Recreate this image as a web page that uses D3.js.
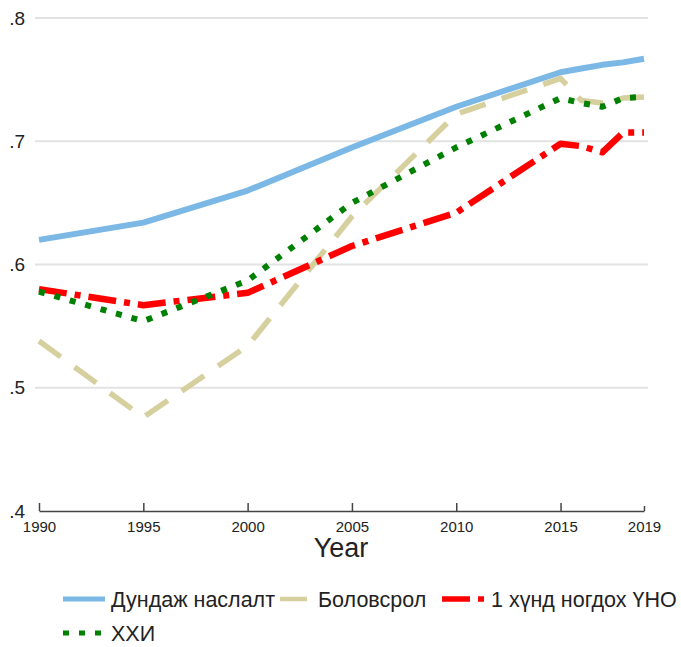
<!DOCTYPE html>
<html>
<head>
<meta charset="utf-8">
<script src="https://cdn.jsdelivr.net/npm/d3@7"></script>
<style>
  body { margin: 0; background: #fff; }
  text { font-family: "Liberation Sans", Arial, sans-serif; fill: #222; }
</style>
</head>
<body>
<div id="chart"></div>
<script>
// values
var years = [1990, 1995, 2000, 2005, 2010, 2015, 2016, 2017, 2018, 2019];
var lifeExp   = [0.620, 0.634, 0.660, 0.695, 0.728, 0.756, 0.759, 0.762, 0.764, 0.767];
var education = [0.538, 0.476, 0.534, 0.639, 0.722, 0.751, 0.733, 0.731, 0.735, 0.736];
var gni       = [0.580, 0.567, 0.577, 0.615, 0.642, 0.698, 0.696, 0.691, 0.707, 0.707];
var hdi       = [0.578, 0.554, 0.587, 0.650, 0.695, 0.735, 0.731, 0.728, 0.735, 0.736];
var seriesNames = ["Дундаж наслалт", "Боловсрол", "1 хүнд ногдох ҮНО", "ХХИ"];
var xTicks = [1990, 1995, 2000, 2005, 2010, 2015, 2019];
var yTicks = [0.4, 0.5, 0.6, 0.7, 0.8];
var xTitle = "Year";

var width = 681, height = 647;

var series = [
  {name: seriesNames[0], values: lifeExp,   color: "#7bb8e5", w: 6,   dash: null,       key: 42},
  {name: seriesNames[1], values: education, color: "#d6cf9e", w: 5.5, dash: "27,17",    key: 42},
  {name: seriesNames[2], values: gni,       color: "#ff0000", w: 6.5, dash: "28,8,6,8", key: 42},
  {name: seriesNames[3], values: hdi,       color: "#008000", w: 6,   dash: "6,10",     key: 42}
];

var svg = d3.select("#chart").append("svg")
    .attr("width", width)
    .attr("height", height);

var x = d3.scaleLinear().domain([1990, 2019]).range([39, 644]);
var y = d3.scaleLinear().domain([0.4, 0.8]).range([511, 18]);

// gridlines
svg.append("g").selectAll("line").data(yTicks.slice(1)).enter().append("line")
    .attr("x1", 35).attr("x2", 648)
    .attr("y1", function(d) { return y(d); })
    .attr("y2", function(d) { return y(d); })
    .attr("stroke", "#e2e2e2")
    .attr("stroke-width", 2);

// y labels
var yAxis = svg.append("g")
    .attr("transform", "translate(25,0)")
    .call(d3.axisLeft(y).tickValues(yTicks).tickSize(0).tickPadding(0)
      .tickFormat(function(d) { return d3.format(".1f")(d).replace(/^0/, ""); }));
yAxis.select(".domain").remove();
yAxis.selectAll("text").style("font-size", "19px").attr("fill", "#222")
    .attr("font-family", "Liberation Sans, Arial, sans-serif");

// x axis
var xAxis = svg.append("g")
    .attr("transform", "translate(0," + y(0.4) + ")")
    .call(d3.axisBottom(x).tickValues(xTicks).tickSize(-8).tickSizeOuter(0).tickPadding(10)
      .tickFormat(d3.format("d")));
xAxis.select(".domain").attr("stroke", "#444").attr("stroke-width", 1.5);
xAxis.selectAll(".tick line").attr("stroke", "#444").attr("stroke-width", 1.5)
    .attr("y2", function(d) { return d === 2019 ? -5 : -8; });
xAxis.selectAll("text").style("font-size", "15px").attr("fill", "#222")
    .attr("font-family", "Liberation Sans, Arial, sans-serif");

svg.append("text")
    .attr("x", 341).attr("y", 557)
    .attr("text-anchor", "middle")
    .style("font-size", "27px")
    .text(xTitle);

// lines
var line = d3.line()
    .x(function(d, i) { return x(years[i]); })
    .y(function(d) { return y(d); });

svg.append("g").selectAll("path").data(series).enter().append("path")
    .attr("d", function(d) { return line(d.values); })
    .attr("fill", "none")
    .attr("stroke", function(d) { return d.color; })
    .attr("stroke-width", function(d) { return d.w; })
    .attr("stroke-dasharray", function(d) { return d.dash; })
    .attr("stroke-linejoin", "round");

// legend
var legendPos = [{x: 63, y: 599, tx: 48}, {x: 280, y: 599, tx: 38},
                 {x: 442, y: 599, tx: 49}, {x: 63, y: 633, tx: 48}];
var item = svg.append("g").selectAll("g").data(series).enter().append("g")
    .attr("transform", function(d, i) { return "translate(" + legendPos[i].x + "," + legendPos[i].y + ")"; });

item.append("line")
    .attr("x1", 0).attr("x2", function(d) { return d.key; })
    .attr("y1", 0).attr("y2", 0)
    .attr("stroke", function(d) { return d.color; })
    .attr("stroke-width", function(d) { return d.w - 1; })
    .attr("stroke-dasharray", function(d) { return d.dash; });

item.append("text")
    .attr("x", function(d, i) { return legendPos[i].tx; })
    .attr("y", 7.5)
    .style("font-size", "21.5px")
    .text(function(d) { return d.name; });
</script>
</body>
</html>
